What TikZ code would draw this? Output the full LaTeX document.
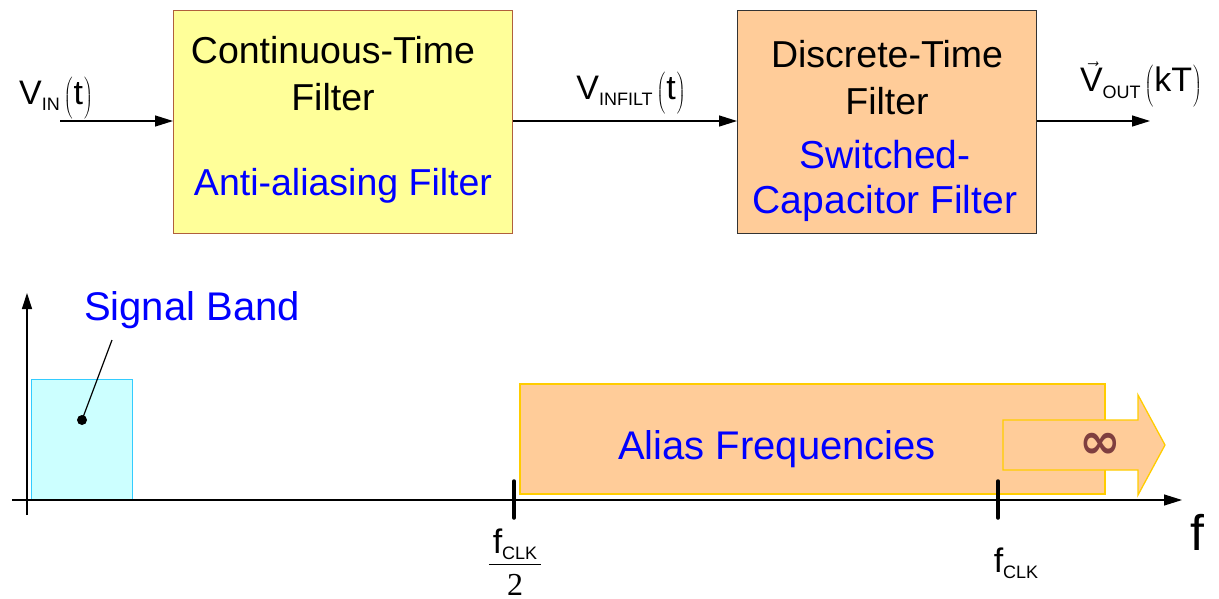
\documentclass[tikz,border=0pt]{standalone}
\usepackage{fontspec}
\setmainfont{Liberation Sans}
\newfontfamily\serifnum{Liberation Serif}
\newfontfamily\symfont{DejaVu Sans}
\usetikzlibrary{arrows.meta}
\definecolor{boxyellow}{HTML}{FFFF99}
\definecolor{boxbrown}{HTML}{B0603C}
\definecolor{peach}{HTML}{FFCC99}
\definecolor{gold}{HTML}{FFCC00}
\definecolor{bandfill}{HTML}{CCFFFF}
\definecolor{bandline}{HTML}{33CCFF}
\definecolor{infcol}{HTML}{7F3F3F}
\newcommand{\boxf}{\fontsize{37.5}{47}\selectfont}
\newcommand{\lblf}{\fontsize{40}{45}\selectfont}
\newcommand{\sigf}{\fontsize{34}{38}\selectfont}
\newcommand{\subf}{\fontsize{18}{20}\selectfont}
\newcommand{\prn}[1]{\hspace{4pt}$\left(\hbox{\sigf\kern1pt #1\kern1pt}\vphantom{\rule[-6pt]{0pt}{34pt}}\right)$}
\tikzset{
  txt/.style={font=\boxf, align=center, inner sep=0pt},
  bluetxt/.style={font=\lblf, align=center, inner sep=0pt, text=blue},
  sig/.style={line width=1.3pt, -{Triangle[length=18pt,width=11pt]}},
  tick/.style={line width=3.5pt, line cap=round},
}
\begin{document}
\begin{tikzpicture}[x=1pt,y=-1pt]
\useasboundingbox (0,0) rectangle (1219,598);
% top blocks
\node[draw=boxbrown, fill=boxyellow, line width=1.2pt, minimum width=339pt, minimum height=223pt, anchor=north west, inner sep=0pt] (ctf) at (173,10) {};
\node[draw=black!80, fill=peach, line width=1.2pt, minimum width=299pt, minimum height=223pt, anchor=north west, inner sep=0pt] (dtf) at (737,10) {};
\node[txt] (ctft) at (333,74) {Continuous-Time\\Filter};
\node[txt, text=blue] (aaf) at (343,186) {Anti-aliasing Filter};
\node[txt] (dtft) at (887,78) {Discrete-Time\\Filter};
\node[bluetxt, font=\fontsize{39}{45}\selectfont] (scf) at (885,181) {Switched-\\Capacitor Filter};
% signal arrows
\coordinate (in) at (60,121);
\coordinate (out) at (1150,121);
\draw[sig] (in) -- (ctf.west |- in);
\draw[sig] (ctf.east |- in) -- (dtf.west |- in);
\draw[sig] (dtf.east |- out) -- (out);
\node[inner sep=0pt] (vin) at (56,98) {\sigf V\raisebox{-0.35ex}{\subf IN}\prn{t}};
\node[inner sep=0pt] (vinf) at (631,93) {\sigf V\raisebox{-0.35ex}{\subf INFILT}\prn{t}};
\node[inner sep=0pt] (vout) at (1141,84) {\sigf $\vec{\hbox{\sigf V}}$\raisebox{-0.35ex}{\subf OUT}\prn{kT}};
% spectrum
\coordinate (yb) at (27,515);
\coordinate (yt) at (27,293);
\coordinate (xl) at (12,500);
\coordinate (xr) at (1182,500);
\node[draw=bandline, fill=bandfill, line width=1.3pt, minimum width=101pt, minimum height=120pt, anchor=south west, inner sep=0pt] (band) at (31,500) {};
\node[draw=gold, fill=peach, line width=1.6pt, minimum width=585pt, minimum height=110pt, anchor=south west, inner sep=0pt] (alias) at (519,495) {};
\draw[draw=gold, fill=peach, line width=1.3pt] (1003,420) -- (1138,420) -- (1138,395) -- (1165,445) -- (1138,495) -- (1138,470) -- (1003,470) -- cycle;
\node[text=infcol, inner sep=0pt] (inf) at (1100,446) {\fontsize{50}{50}\selectfont\symfont\bfseries ∞};
\draw[line width=1.2pt, -{Triangle[length=16pt,width=10pt]}] (yb) -- (yt);
\draw[line width=1.2pt, -{Triangle[length=18pt,width=11pt]}] (xl) -- (xr);
\node[bluetxt] (sbl) at (192,310) {Signal Band};
\coordinate (dot) at (82,420);
\coordinate (lead) at (112,340);
\fill (dot) circle (5pt);
\draw[line width=1.2pt] (dot) -- (lead);
\node[bluetxt] (afl) at (777,449) {Alias Frequencies};
\coordinate (t1a) at (514,481); \coordinate (t1b) at (514,518);
\coordinate (t2a) at (998,481); \coordinate (t2b) at (998,518);
\draw[tick] (t1a) -- (t1b);
\draw[tick] (t2a) -- (t2b);
\node[inner sep=0pt] (half) at (515,562) {$\displaystyle\frac{\hbox{\kern4pt\fontsize{34}{36}\selectfont f\raisebox{-0.35ex}{\subf CLK}\kern4pt\rule[-9pt]{0pt}{1pt}}}{\hbox{\fontsize{32}{34}\selectfont\serifnum\rule{0pt}{30pt}2}}$};
\node[inner sep=0pt] (fclk) at (1016,563) {\fontsize{34}{36}\selectfont f\raisebox{-0.35ex}{\subf CLK}};
\node[inner sep=0pt] (f) at (1197,532) {\fontsize{50}{52}\selectfont f};
\end{tikzpicture}
\end{document}
